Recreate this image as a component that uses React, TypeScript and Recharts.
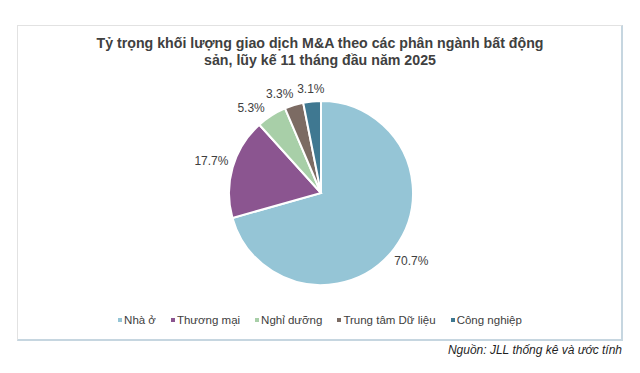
import { Legend, Pie, PieChart, Cell } from "recharts";

const categories = ["Nhà ở", "Thương mại", "Nghỉ dưỡng", "Trung tâm Dữ liệu", "Công nghiệp"];
const shares = [70.7, 17.7, 5.3, 3.3, 3.1];
const colors = ["#95c5d6", "#8b5590", "#a8cfa8", "#7c6b63", "#3f7891"];

const titleLines = [
  "Tỷ trọng khối lượng giao dịch M&A theo các phân ngành bất động",
  "sản, lũy kế 11 tháng đầu năm 2025",
];
const sourceNote = "Nguồn: JLL thống kê và ước tính";

const FONT = "'Liberation Sans', Arial, sans-serif";
const RAD = Math.PI / 180;
const MIN_GAP = 17; // degrees between neighbouring labels

const data = categories.map((name, i) => ({ name, value: shares[i] }));

// small slices sit close together at the top, so spread their labels:
// walk backwards from the last slice and push each label away from the one before
const total = shares.reduce((a, b) => a + b, 0);
const labelNudge = (() => {
  let acc = 0;
  const mids = shares.map((v) => {
    const m = 90 - (acc + v / 2) / total * 360;
    acc += v;
    return m + 360;
  });
  const placed = [...mids];
  for (let i = mids.length - 2; i >= 0; i--) {
    if (placed[i] - placed[i + 1] < MIN_GAP) placed[i] = placed[i + 1] + MIN_GAP;
  }
  return placed.map((p, i) => p - mids[i]);
})();

function renderLabel(props: any) {
  const { cx, cy, midAngle, outerRadius, value, index } = props;
  const text = `${value.toFixed(1)}%`;
  const ang = midAngle + (labelNudge[index] || 0);
  const cos = Math.cos(-ang * RAD);
  const sin = Math.sin(-ang * RAD);
  const halfW = text.length * 3.2;
  const d = outerRadius + 5 + halfW * Math.abs(cos) + 6 * Math.abs(sin);
  return (
    <text
      x={cx + d * cos}
      y={cy + d * sin}
      textAnchor="middle"
      dominantBaseline="central"
      fontSize={12}
      fontFamily={FONT}
      fill="#404040"
    >
      {text}
    </text>
  );
}

function LegendContent() {
  return (
    <div
      style={{
        display: "flex",
        justifyContent: "center",
        alignItems: "center",
        fontFamily: FONT,
        fontSize: 11.5,
        color: "#404040",
      }}
    >
      {categories.map((c, i) => (
        <div key={c} style={{ display: "flex", alignItems: "center", marginRight: i < categories.length - 1 ? 15 : 0 }}>
          <span style={{ width: 4, height: 4, background: colors[i], marginRight: 2, display: "inline-block" }} />
          <span>{c}</span>
        </div>
      ))}
    </div>
  );
}

export default function App() {
  return (
    <div style={{ position: "absolute", left: 0, top: 0, width: 640, height: 373, background: "#fff", overflow: "hidden" }}>
      <div
        style={{
          position: "absolute",
          left: 17,
          top: 25,
          width: 603,
          height: 313,
          borderTop: "1px solid #e2e2e2",
          borderLeft: "1px solid #e2e2e2",
          borderRight: "2px solid #c6d6e0",
          borderBottom: "2px solid #c6d6e0",
        }}
      />
      <div
        style={{
          position: "absolute",
          left: 0,
          top: 35,
          width: 640,
          textAlign: "center",
          fontFamily: FONT,
          fontWeight: "bold",
          fontSize: 14.2,
          lineHeight: "17px",
          color: "#404040",
        }}
      >
        {titleLines.map((t) => (
          <div key={t}>{t}</div>
        ))}
      </div>
      <div style={{ position: "absolute", left: 0, top: 0 }}>
        <PieChart width={640} height={373} margin={{ top: 0, right: 0, bottom: 0, left: 0 }}>
          <Pie
            data={data}
            dataKey="value"
            nameKey="name"
            cx={321}
            cy={193}
            outerRadius={92}
            startAngle={90}
            endAngle={-270}
            stroke="#ffffff"
            strokeWidth={2}
            label={renderLabel}
            labelLine={false}
            isAnimationActive={false}
          >
            {data.map((d, i) => (
              <Cell key={d.name} fill={colors[i]} />
            ))}
          </Pie>
          <Legend content={<LegendContent />} wrapperStyle={{ top: 314, left: 0, width: 640 }} />
        </PieChart>
      </div>
      <div
        style={{
          position: "absolute",
          right: 18,
          top: 343,
          fontFamily: FONT,
          fontStyle: "italic",
          fontSize: 12,
          color: "#1f1f1f",
          whiteSpace: "nowrap",
        }}
      >
        {sourceNote}
      </div>
    </div>
  );
}
